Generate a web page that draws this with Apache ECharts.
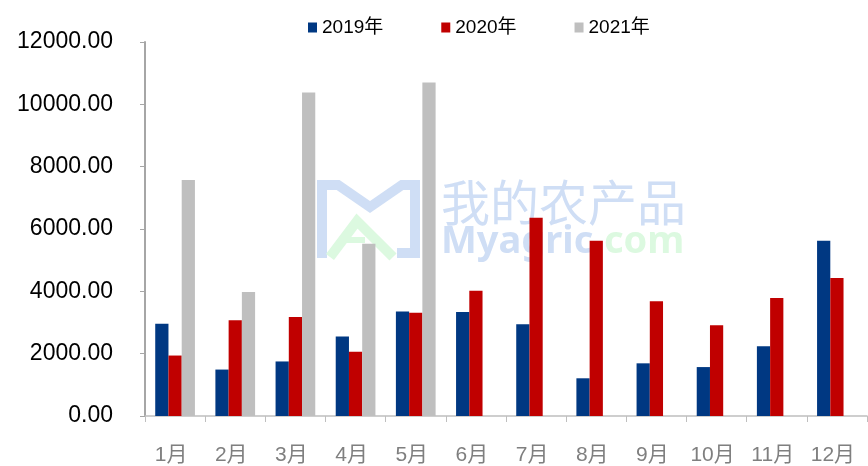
<!DOCTYPE html>
<html><head><meta charset="utf-8">
<script src="https://cdn.jsdelivr.net/npm/echarts@6/dist/echarts.min.js"></script>
<style>html,body{margin:0;padding:0;background:#fff}#c{width:868px;height:466px}</style>
</head><body><div id="c"></div>
<script>
var categories = ['1月','2月','3月','4月','5月','6月','7月','8月','9月','10月','11月','12月'];
var seriesNames = ['2019年','2020年','2021年'];
var v2019 = [2960,1490,1750,2550,3350,3340,2940,1210,1690,1570,2240,5620];
var v2020 = [1940,3070,3180,2060,3310,4020,6360,5620,3680,2910,3790,4430];
var v2021 = [7570,3980,10380,5530,10700,null,null,null,null,null,null,null];
var yTicks = {min:0, max:12000, interval:2000};

var font = '"Liberation Sans","Noto Sans CJK SC",sans-serif';
var wmBlue = '#cfdef5';
var wmGreen = '#dcf9e0';
var chart = echarts.init(document.getElementById('c'));
chart.setOption({
  animation:false,
  backgroundColor:'#fff',
  legend:{
    data:seriesNames, left:303, top:13, icon:'rect', itemWidth:9, itemHeight:10, itemGap:58,
    textStyle:{fontFamily:font, fontSize:19, color:'#000'}
  },
  grid:{left:145, right:1, top:42, bottom:49, containLabel:false},
  xAxis:{
    type:'category', data:categories,
    axisLine:{lineStyle:{color:'#bfbfbf', width:1.5}},
    axisTick:{show:true, length:6, lineStyle:{color:'#bfbfbf'}},
    axisLabel:{interval:0, hideOverlap:false, fontFamily:font, fontSize:21, color:'#7f7f7f', margin:29, padding:[0,8,0,0]}
  },
  yAxis:{
    type:'value', min:yTicks.min, max:yTicks.max, interval:yTicks.interval,
    splitLine:{show:false},
    axisLine:{show:true, lineStyle:{color:'#a6a6a6', width:2}},
    axisTick:{show:true, length:5, lineStyle:{color:'#a6a6a6'}},
    axisLabel:{fontFamily:font, fontSize:23, color:'#000', margin:32,
      formatter:function(v){return v.toFixed(2);}}
  },
  series:[
    {name:seriesNames[0], type:'bar', data:v2019, barGap:'0%', barCategoryGap:'34%', itemStyle:{color:'#003882'}},
    {name:seriesNames[1], type:'bar', data:v2020, barGap:'0%', barCategoryGap:'34%', itemStyle:{color:'#c00000'}},
    {name:seriesNames[2], type:'bar', data:v2021, barGap:'0%', barCategoryGap:'34%', itemStyle:{color:'#bfbfbf'}}
  ],
  graphic:[
    {type:'polyline', z:0, silent:true, shape:{points:[[322,258],[322,185],[338,185],[370,207],[402,185],[415,185],[415,253],[397,253]]},
      style:{stroke:wmBlue, lineWidth:10, fill:null, lineJoin:'miter'}},
    {type:'polyline', z:0, silent:true, shape:{points:[[330,257],[357,221],[393,257]]},
      style:{stroke:wmGreen, lineWidth:10, fill:null, lineJoin:'miter'}},
    {type:'line', z:0, silent:true, shape:{x1:340,y1:240,x2:365,y2:240}, style:{stroke:wmGreen, lineWidth:6}},
    {type:'text', z:0, silent:true, left:441, top:178,
      style:{text:'我的农产品', font:'49px "Noto Sans CJK SC"', fill:wmBlue}},
    {type:'text', z:0, silent:true, left:441, top:223,
      style:{rich:{a:{fill:wmBlue, font:'bold 38px "Noto Sans"'}, b:{fill:wmGreen, font:'bold 38px "Noto Sans"'}}, text:'{a|Myagric}{b|.com}'}}
  ]
});
</script></body></html>
